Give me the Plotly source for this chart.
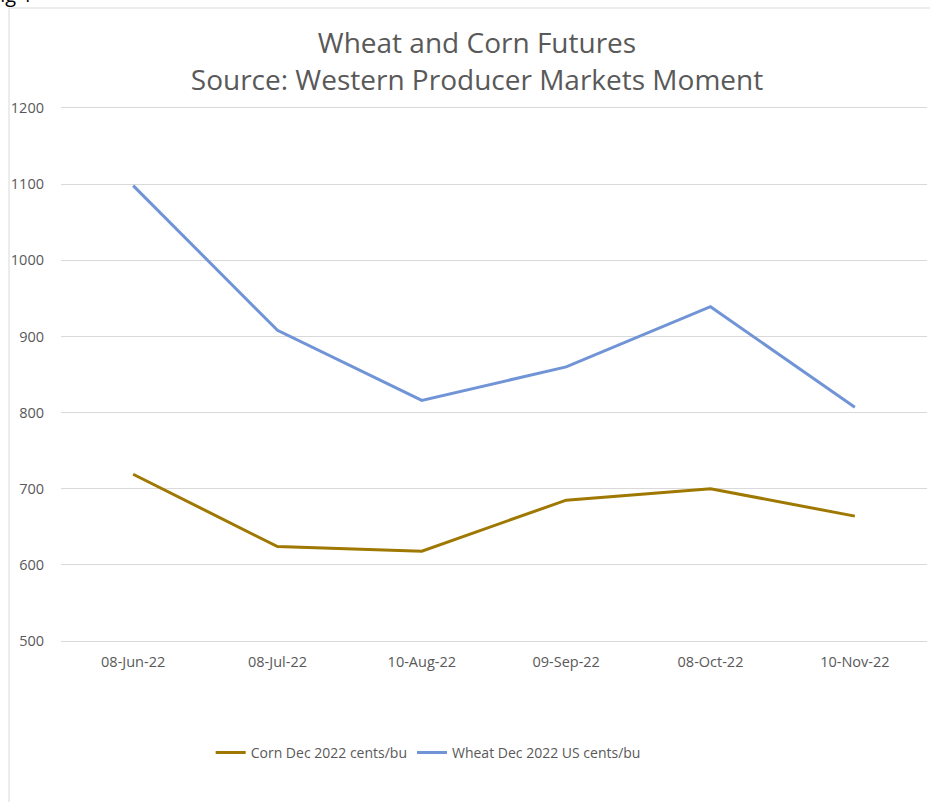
import plotly.graph_objects as go

# data
dates = ['08-Jun-22', '08-Jul-22', '10-Aug-22', '09-Sep-22', '08-Oct-22', '10-Nov-22']
corn = [719, 624, 618, 685, 700, 664]
wheat = [1098, 908, 816, 860, 939, 807]

grey = '#595959'
font = '"Open Sans", Lato, sans-serif'

fig = go.Figure()
fig.add_trace(go.Scatter(x=dates, y=corn, mode='lines', name='Corn Dec 2022 cents/bu',
                         line=dict(color='#9E7800', width=3)))
fig.add_trace(go.Scatter(x=dates, y=wheat, mode='lines', name='Wheat Dec 2022 US cents/bu',
                         line=dict(color='#7094D6', width=3)))

fig.update_layout(
    width=934, height=802,
    margin=dict(l=61, r=7, t=108, b=161),
    paper_bgcolor='white', plot_bgcolor='white',
    font=dict(family=font, color=grey, size=14),
    title=dict(text='Wheat and Corn Futures<br>Source: Western Producer Markets Moment',
               x=0.5107, xanchor='center', y=0.9333, yanchor='middle',
               font=dict(size=28, color=grey)),
    showlegend=True,
    legend=dict(orientation='h', x=0.424, xanchor='center', y=-0.21, yanchor='middle',
                font=dict(size=14, color=grey), itemwidth=30),
    xaxis=dict(type='category', range=[-0.5, 5.5], showgrid=False,
               showline=True, mirror=True, linecolor='#D9D9D9', linewidth=1, ticks='',
               tickfont=dict(size=14.5, color=grey), ticklabelstandoff=8),
    yaxis=dict(range=[500, 1200], dtick=100, showgrid=True, gridcolor='#D9D9D9', gridwidth=1,
               zeroline=False, showline=False, ticks='',
               tickfont=dict(size=14.5, color=grey), ticklabelstandoff=16),
)

# chart frame (left and top edges)
fig.add_shape(type='line', xref='paper', yref='paper', x0=-0.06, x1=-0.06, y0=-0.35, y1=1.1876,
              line=dict(color='#D9D9D9', width=1))
fig.add_shape(type='line', xref='paper', yref='paper', x0=-0.06, x1=1.0035, y0=1.1876, y1=1.1876,
              line=dict(color='#D9D9D9', width=1))

# cropped figure caption at the very top
fig.add_annotation(text='Fig 1', xref='paper', yref='paper', x=-0.030, y=1.1839,
                   xanchor='right', yanchor='bottom', showarrow=False,
                   font=dict(size=20, color='black', family=font))

# drop the default body margin so the figure sits at the top-left corner
fig.write_html('out.html', config={'displayModeBar': False},
               post_script="document.body.style.margin='0';")
